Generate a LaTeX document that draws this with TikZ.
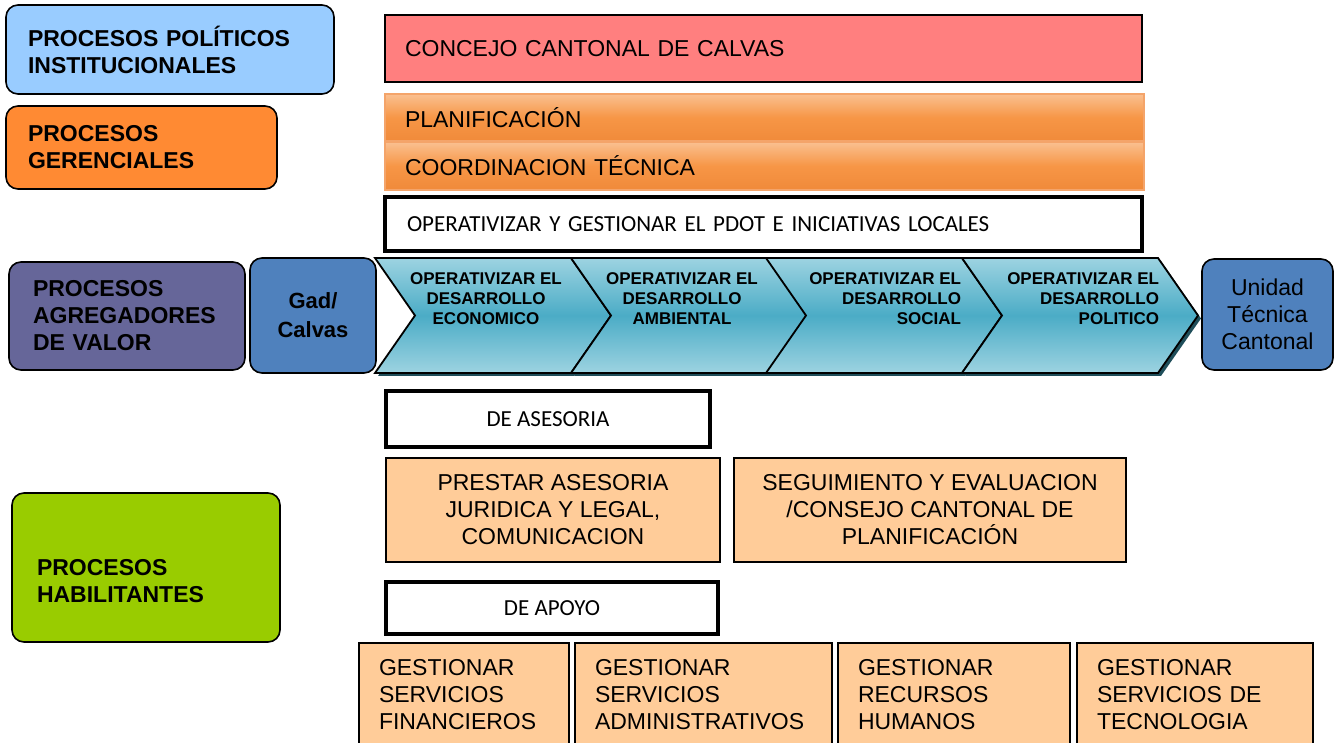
\documentclass[tikz,border=0pt]{standalone}
\usepackage{fontspec}
\setmainfont{Liberation Sans}
\newfontfamily\calib{Carlito}
\usetikzlibrary{positioning}

\definecolor{polblue}{HTML}{99CCFF}
\definecolor{gerorange}{HTML}{FF8A33}
\definecolor{agrpurple}{HTML}{666699}
\definecolor{habgreen}{HTML}{99CC00}
\definecolor{concred}{HTML}{FF7F7F}
\definecolor{orlt}{HTML}{FAC090}
\definecolor{ormid}{HTML}{F79646}
\definecolor{ordk}{HTML}{F08A3A}
\definecolor{barline}{HTML}{F4A46A}
\definecolor{endblue}{HTML}{4F81BD}
\definecolor{chevlt}{HTML}{9DD3E1}
\definecolor{chevdk}{HTML}{4BACC6}
\definecolor{chevshade}{HTML}{1F4E5A}
\definecolor{actfill}{HTML}{FFCC99}

\tikzset{
  every node/.style={inner sep=0pt, outer sep=0pt},
  grp/.style={draw=black, line width=0.8pt, rounded corners=6pt, anchor=north west,
    align=left, font=\fontsize{11.5}{13.5}\selectfont\bfseries},
  bar/.style={draw=black, line width=0.7pt, anchor=north west, align=left,
    font=\fontsize{11.5}{13.5}\selectfont, inner xsep=10pt},
  gradbar/.style={bar, draw=barline, top color=orlt, bottom color=ordk, middle color=ormid},
  tagbox/.style={draw=black, line width=2pt, fill=white, anchor=north west,
    font=\calib\fontsize{11.5}{13.5}\selectfont},
  actbox/.style={draw=black, line width=0.6pt, fill=actfill, anchor=north west,
    font=\fontsize{11.5}{13.5}\selectfont},
  endbox/.style={draw=black, line width=0.8pt, fill=endblue, rounded corners=6pt,
    anchor=north west, align=center},
  chev/.style={draw=black, line width=0.9pt, top color=chevlt, bottom color=chevlt,
    middle color=chevdk},
  chevtxt/.style={font=\fontsize{8.5}{10}\selectfont\bfseries},
}

\begin{document}
\begin{tikzpicture}[x=0.5pt, y=-0.5pt]
  \path[fill=white, use as bounding box] (0,0) rectangle (1340,743);
  % process groups on the left
  \node[grp, fill=polblue, minimum width=164pt, minimum height=44.5pt, text width=142pt,
    inner xsep=11pt] (pol) at (6,5) {PROCESOS POLÍTICOS\\INSTITUCIONALES};
  \node[grp, fill=gerorange, minimum width=135.5pt, minimum height=41.5pt, text width=113.5pt,
    inner xsep=11pt] (ger) at (6,106) {PROCESOS\\GERENCIALES};
  \node[grp, fill=agrpurple, minimum width=118pt, minimum height=54pt, text width=94pt,
    inner xsep=12pt] (agr) at (9,262) {PROCESOS\\AGREGADORES\\DE VALOR};
  \node[grp, fill=habgreen, minimum width=134pt, minimum height=74.5pt] (hab) at (12,493) {};
  \node[font=\fontsize{11.5}{13.5}\selectfont\bfseries, anchor=west, align=left]
    (habtxt) at (37,581.5) {PROCESOS\\HABILITANTES};
  % gobernantes
  \node[bar, fill=concred, minimum width=378.5pt, minimum height=33.5pt, text width=358.5pt]
    (concejo) at (385,15) {CONCEJO CANTONAL DE CALVAS};
  \node[gradbar, minimum width=379.5pt, minimum height=23.5pt, text width=359.5pt]
    (plan) at (385,94) {PLANIFICACIÓN};
  \node[gradbar, minimum width=379.5pt, minimum height=24pt, text width=359.5pt]
    (coord) at (385,142) {COORDINACION TÉCNICA};
  \node[tagbox, minimum width=378.5pt, minimum height=27pt, text width=356.5pt, align=left,
    inner xsep=11pt] (pdot) at (385,197) {OPERATIVIZAR Y GESTIONAR EL PDOT E INICIATIVAS LOCALES};
  % value chain
  \node[endbox, minimum width=63pt, minimum height=57.5pt,
    font=\fontsize{11}{14.5}\selectfont\bfseries] (gad) at (250,258) {Gad/\\Calvas};
  \foreach \x in {375,571,766,962} {
    \fill[chevshade] (\x+3,261) -- ++(196,0) -- ++(40,57.5) -- ++(-40,57.5) -- ++(-196,0)
      -- ++(40,-57.5) -- cycle;
    \draw[chev] (\x,258) -- ++(196,0) -- ++(40,57.5) -- ++(-40,57.5) -- ++(-196,0)
      -- ++(40,-57.5) -- cycle;
  }
  \node[chevtxt, align=center] (eco) at (486,299) {OPERATIVIZAR EL\\DESARROLLO\\ECONOMICO};
  \node[chevtxt, align=center] (amb) at (682,299) {OPERATIVIZAR EL\\DESARROLLO\\AMBIENTAL};
  \node[chevtxt, align=right, anchor=east] (soc) at (961,299) {OPERATIVIZAR EL\\DESARROLLO\\SOCIAL};
  \node[chevtxt, align=right, anchor=east] (polit) at (1159,299) {OPERATIVIZAR EL\\DESARROLLO\\POLITICO};
  \node[endbox, minimum width=65.5pt, minimum height=55.5pt,
    font=\fontsize{11.5}{13.5}\selectfont] (utc) at (1202,259) {Unidad\\Técnica\\Cantonal};
  % habilitantes
  \node[tagbox, minimum width=162pt, minimum height=28pt] (ases) at (386,391) {DE ASESORIA};
  \node[actbox, minimum width=167pt, minimum height=52pt, align=center] (jur) at (386,458)
    {PRESTAR ASESORIA\\JURIDICA Y LEGAL,\\COMUNICACION};
  \node[actbox, minimum width=196pt, minimum height=52pt, align=center] (seg) at (734,458)
    {SEGUIMIENTO Y EVALUACION\\/CONSEJO CANTONAL DE\\PLANIFICACIÓN};
  \node[tagbox, minimum width=166pt, minimum height=26pt] (apoyo) at (386,582) {DE APOYO};
  \foreach \x/\w/\name/\txt in {359/105/fin/{GESTIONAR\\SERVICIOS\\FINANCIEROS},
      575/128.5/adm/{GESTIONAR\\SERVICIOS\\ADMINISTRATIVOS},
      838/116/rrhh/{GESTIONAR\\RECURSOS\\HUMANOS},
      1077/118/tec/{GESTIONAR\\SERVICIOS DE\\TECNOLOGIA}} {
    \node[actbox, align=left, minimum width=\w pt, text width=\w pt-20pt, inner xsep=10pt,
      inner ysep=8pt, text depth=45pt] (\name) at (\x,643) {\txt};
  }
\end{tikzpicture}
\end{document}
